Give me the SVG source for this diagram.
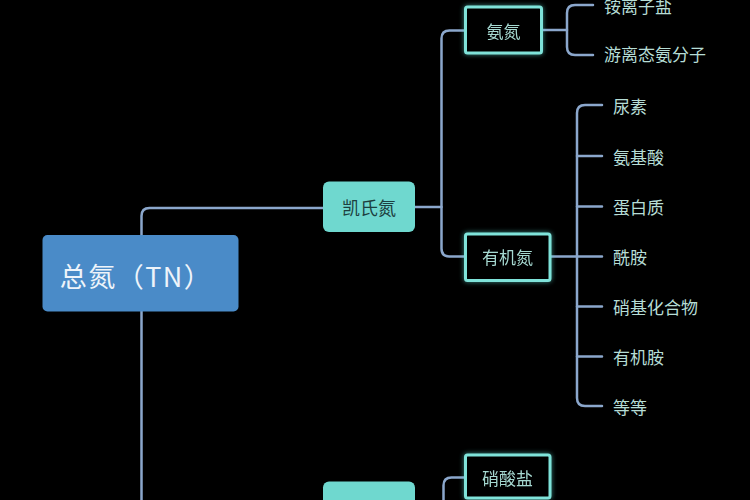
<svg xmlns="http://www.w3.org/2000/svg" width="750" height="500" viewBox="0 0 750 500">
  <defs>
    <style>
      .conn { fill: none; stroke: #8ba7cc; stroke-width: 2.5; stroke-linecap: round; }
      .txt { font-family: "Noto Sans CJK SC", "Noto Sans", sans-serif; dominant-baseline: central; }
      .root-box { fill: #4a8bc8; }
      .root-txt { fill: #eef4fa; font-size: 27px; letter-spacing: 1.5px; text-anchor: middle; }
      .fill-box { fill: #6fd8cf; }
      .fill-txt { fill: #1d3f40; font-size: 18px; text-anchor: middle; }
      .out-box { fill: #000; stroke: #7fe3da; stroke-width: 3; }
      .out-txt { fill: #a6d9d1; font-size: 17px; text-anchor: middle; }
      .leaf-txt { fill: #b6ddd6; font-size: 17px; }
    </style>
    <filter id="glow" x="-20%" y="-30%" width="140%" height="160%">
      <feGaussianBlur in="SourceAlpha" stdDeviation="2.5" result="b"/>
      <feFlood flood-color="#5fe0d6" flood-opacity="0.6"/>
      <feComposite in2="b" operator="in" result="g"/>
      <feMerge><feMergeNode in="g"/><feMergeNode in="SourceGraphic"/></feMerge>
    </filter>
  </defs>
  <rect width="750" height="500" fill="#000"/>

  <g id="connectors">
    <path class="conn" d="M141.5 235 V216 Q141.5 208 149.5 208 H323"/>
    <path class="conn" d="M141.5 311 V504 Q141.5 512 149.5 512 H323"/>
    <path class="conn" d="M415 207 H441.5"/>
    <path class="conn" d="M465 30.5 H449.5 Q441.5 30.5 441.5 38.5 V248.5 Q441.5 256.5 449.5 256.5 H465"/>
    <path class="conn" d="M542 30 H567"/>
    <path class="conn" d="M593 5 H575 Q567 5 567 13 V47 Q567 55 575 55 H593"/>
    <path class="conn" d="M550 256.5 H577"/>
    <path class="conn" d="M602 105 H585 Q577 105 577 113 V398 Q577 406 585 406 H602"/>
    <path class="conn" d="M577 156 H602 M577 206.5 H602 M577 256.5 H602 M577 306.5 H602 M577 356.5 H602"/>
    <path class="conn" d="M415 512 H443.5"/>
    <path class="conn" d="M465 477.5 H451.5 Q443.5 477.5 443.5 485.5 V520"/>
  </g>

  <g id="node-tn">
    <rect class="root-box" x="42.5" y="235" width="196" height="76.5" rx="5"/>
    <text class="txt root-txt" x="136" y="275">总氮（TN）</text>
  </g>

  <g id="node-kjeldahl">
    <rect class="fill-box" x="323" y="181.5" width="92" height="50.5" rx="6"/>
    <text class="txt fill-txt" x="369" y="207">凯氏氮</text>
  </g>

  <g id="node-nitrate-n">
    <rect class="fill-box" x="323" y="481.5" width="92" height="50.5" rx="6"/>
    <text class="txt fill-txt" x="369" y="509">硝态氮</text>
  </g>

  <g id="node-ammonia" filter="url(#glow)">
    <rect class="out-box" x="465.5" y="7" width="76" height="46" rx="2"/>
    <text class="txt out-txt" x="503.5" y="30">氨氮</text>
  </g>

  <g id="node-organic" filter="url(#glow)">
    <rect class="out-box" x="465.5" y="234" width="84.5" height="46.5" rx="2"/>
    <text class="txt out-txt" x="507.5" y="256.5">有机氮</text>
  </g>

  <g id="node-nitrate" filter="url(#glow)">
    <rect class="out-box" x="465.5" y="455" width="84.5" height="43" rx="2"/>
    <text class="txt out-txt" x="507.5" y="477">硝酸盐</text>
  </g>

  <g id="leaf-ammonium"><text class="txt leaf-txt" x="604" y="5">铵离子盐</text></g>
  <g id="leaf-free-ammonia"><text class="txt leaf-txt" x="604" y="53">游离态氨分子</text></g>
  <g id="leaf-urea"><text class="txt leaf-txt" x="613" y="105">尿素</text></g>
  <g id="leaf-amino-acid"><text class="txt leaf-txt" x="613" y="156">氨基酸</text></g>
  <g id="leaf-protein"><text class="txt leaf-txt" x="613" y="206.5">蛋白质</text></g>
  <g id="leaf-amide"><text class="txt leaf-txt" x="613" y="256.5">酰胺</text></g>
  <g id="leaf-nitro"><text class="txt leaf-txt" x="613" y="306.5">硝基化合物</text></g>
  <g id="leaf-amine"><text class="txt leaf-txt" x="613" y="356.5">有机胺</text></g>
  <g id="leaf-etc"><text class="txt leaf-txt" x="613" y="406.5">等等</text></g>
</svg>
